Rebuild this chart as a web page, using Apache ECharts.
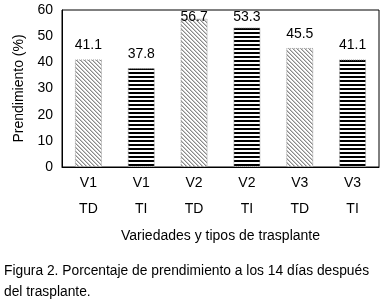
<!DOCTYPE html>
<html>
<head>
<meta charset="utf-8">
<script src="https://cdn.jsdelivr.net/npm/echarts@6/dist/echarts.min.js"></script>
<style>
  html, body { margin: 0; padding: 0; background: #fff; }
  #chart { width: 383px; height: 302px; }
</style>
</head>
<body>
<div id="chart"></div>
<script>
// datos
const variedades = ['V1', 'V1', 'V2', 'V2', 'V3', 'V3'];
const tipos = ['TD', 'TI', 'TD', 'TI', 'TD', 'TI'];
const prendimiento = [41.1, 37.8, 56.7, 53.3, 45.5, 41.1];
const yTicks = [0, 10, 20, 30, 40, 50, 60];

// desplazamiento de etiquetas cerca del borde superior (como en Excel)
const labelOffsets = [0, 0, 13, 4, 0, 0];

// tramas de relleno
function diagPattern() {
  const c = document.createElement('canvas');
  c.width = 4; c.height = 4;
  const ctx = c.getContext('2d');
  ctx.fillStyle = '#fff';
  ctx.fillRect(0, 0, 4, 4);
  ctx.fillStyle = '#8a8a8a';
  for (let i = 0; i < 4; i++) {
    ctx.fillRect(i, i, 1, 1);
  }
  ctx.fillStyle = '#c8c8c8';
  for (let i = 0; i < 4; i++) {
    ctx.fillRect((i + 1) % 4, i, 1, 1);
  }
  return c;
}

function horizPattern() {
  const c = document.createElement('canvas');
  c.width = 4; c.height = 4;
  const ctx = c.getContext('2d');
  ctx.fillStyle = '#fff';
  ctx.fillRect(0, 0, 4, 4);
  ctx.fillStyle = '#000';
  ctx.fillRect(0, 0, 4, 2);
  return c;
}

const tramaTD = { image: diagPattern(), repeat: 'repeat' };
const tramaTI = { image: horizPattern(), repeat: 'repeat' };

const chart = echarts.init(document.getElementById('chart'));

const option = {
  animation: false,
  textStyle: { fontFamily: 'Liberation Sans, Arial, sans-serif' },
  grid: { left: 62, right: 4, top: 10, bottom: 135 },
  xAxis: {
    type: 'category',
    data: variedades.map((v, i) => v + '\n' + tipos[i]),
    name: 'Variedades y tipos de trasplante',
    nameLocation: 'middle',
    nameGap: 62,
    nameTextStyle: { color: '#000', fontSize: 14 },
    axisLine: { show: true, lineStyle: { color: '#000', width: 1 } },
    axisTick: { show: false },
    axisLabel: { color: '#000', fontSize: 14, lineHeight: 26, margin: 3 },
  },
  yAxis: {
    type: 'value',
    min: 0,
    max: 60,
    interval: 10,
    name: 'Prendimiento (%)',
    nameLocation: 'middle',
    nameGap: 36,
    nameTextStyle: { color: '#000', fontSize: 14 },
    axisLine: { show: true, lineStyle: { color: '#000', width: 1 } },
    axisTick: { show: false },
    axisLabel: {
      color: '#000',
      fontSize: 14,
      margin: 9,
      formatter: (v) => (yTicks.indexOf(v) >= 0 ? String(v) : ''),
    },
    splitLine: { show: false },
  },
  series: [
    {
      type: 'bar',
      barWidth: 27,
      data: prendimiento.map((v, i) => ({
        value: v,
        itemStyle: {
          color: tipos[i] === 'TD' ? tramaTD : tramaTI,
          borderColor: '#9a9a9a',
          borderWidth: 1,
          borderType: 'dotted',
        },
        label: { offset: [0, labelOffsets[i]] },
      })),
      label: {
        show: true,
        position: 'top',
        distance: 7,
        color: '#000',
        fontSize: 14,
        formatter: (p) => p.value.toFixed(1),
      },
    },
  ],
  graphic: [
    {
      type: 'rect',
      shape: { x: 62, y: 10, width: 317, height: 157 },
      style: { fill: 'none', stroke: '#000', lineWidth: 1 },
      silent: true,
    },
    {
      type: 'text',
      left: 4,
      top: 261,
      style: {
        text: 'Figura 2. Porcentaje de prendimiento a los 14 días después\ndel trasplante.',
        font: '13.8px Liberation Sans, Arial, sans-serif',
        fill: '#000',
        lineHeight: 21,
      },
    },
  ],
};

chart.setOption(option);
</script>
</body>
</html>
